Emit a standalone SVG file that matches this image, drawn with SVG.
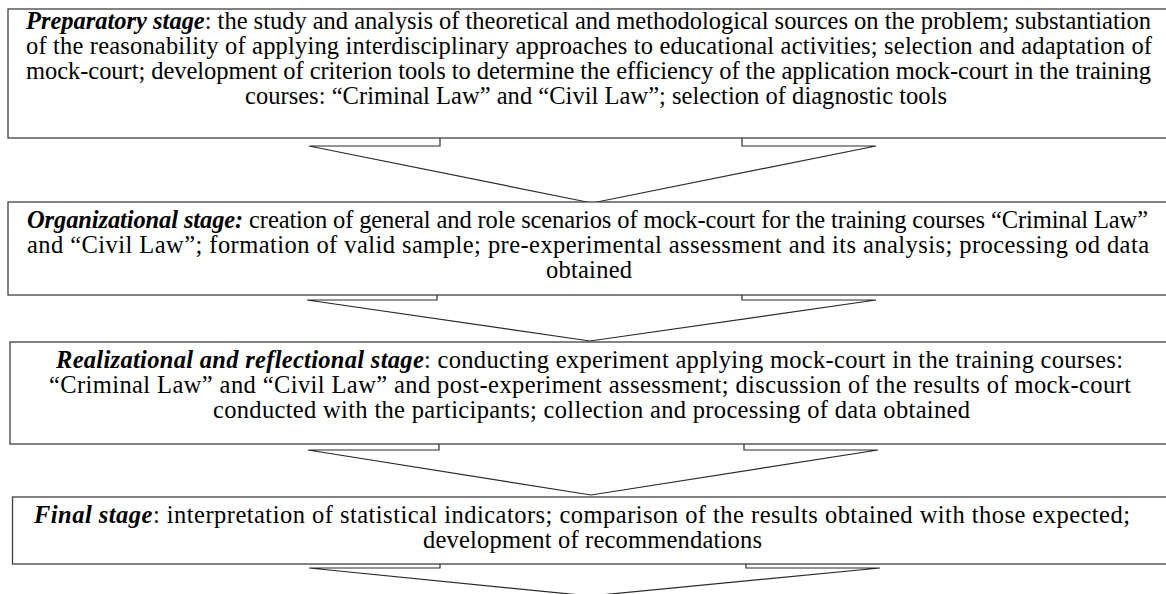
<svg xmlns="http://www.w3.org/2000/svg" width="1166" height="594" viewBox="0 0 1166 594">
<style>
.bg{fill:#ffffff}
.box{fill:#ffffff;stroke:#404040;stroke-width:1.3}
.arr{fill:#ffffff;stroke:#2a2a2a;stroke-width:1.2;stroke-linejoin:miter}
.t{font-family:"Liberation Serif","Times New Roman",serif;font-size:24.5px;fill:#000000}
.b{font-weight:bold;font-style:italic}
</style>
<rect class="bg" x="0" y="0" width="1166" height="594"/>
<g id="connectors">
<polygon class="arr" points="440,120 440,146 309,146 592,203 876,146 742,146 742,120"/>
<polygon class="arr" points="437,280 437,300 307,300 590,341 876,300 742,300 742,280"/>
<polygon class="arr" points="439,430 439,450 308,450 591,495 878,450 744,450 744,430"/>
<polygon class="arr" points="440,550 440,568 309,568 590,596 880,568 746,568 746,550"/>
</g>
<g id="preparatory">
<rect class="box" x="8" y="9" width="1170" height="129"/>
<text class="t" x="26" y="29" textLength="1125" lengthAdjust="spacing"><tspan class="b">Preparatory stage</tspan>: the study and analysis of theoretical and methodological sources on the problem; substantiation</text>
<text class="t" x="26" y="54" textLength="1126" lengthAdjust="spacing">of the reasonability of applying interdisciplinary approaches to educational activities; selection and adaptation of</text>
<text class="t" x="26" y="79" textLength="1125" lengthAdjust="spacing">mock-court; development of criterion tools to determine the efficiency of the application mock-court in the training</text>
<text class="t" x="245" y="104" textLength="702" lengthAdjust="spacing">courses: “Criminal Law” and “Civil Law”; selection of diagnostic tools</text>
</g>
<g id="organizational">
<rect class="box" x="8" y="202" width="1170" height="93"/>
<text class="t" x="27" y="228" textLength="1121" lengthAdjust="spacing"><tspan class="b">Organizational stage:</tspan> creation of general and role scenarios of mock-court for the training courses “Criminal Law”</text>
<text class="t" x="27" y="253" textLength="1122" lengthAdjust="spacing">and “Civil Law”; formation of valid sample; pre-experimental assessment and its analysis; processing od data</text>
<text class="t" x="546" y="278" textLength="86" lengthAdjust="spacing">obtained</text>
</g>
<g id="realizational">
<rect class="box" x="10" y="342" width="1170" height="102"/>
<text class="t" x="56" y="368" textLength="1067" lengthAdjust="spacing"><tspan class="b">Realizational and reflectional stage</tspan>: conducting experiment applying mock-court in the training courses:</text>
<text class="t" x="49" y="393" textLength="1082" lengthAdjust="spacing">“Criminal Law” and “Civil Law” and post-experiment assessment; discussion of the results of mock-court</text>
<text class="t" x="213" y="418" textLength="757" lengthAdjust="spacing">conducted with the participants; collection and processing of data obtained</text>
</g>
<g id="final">
<rect class="box" x="12.5" y="497" width="1170" height="67"/>
<text class="t" x="34" y="523" textLength="1096" lengthAdjust="spacing"><tspan class="b">Final stage</tspan>: interpretation of statistical indicators; comparison of the results obtained with those expected;</text>
<text class="t" x="423" y="548" textLength="339" lengthAdjust="spacing">development of recommendations</text>
</g>
</svg>
